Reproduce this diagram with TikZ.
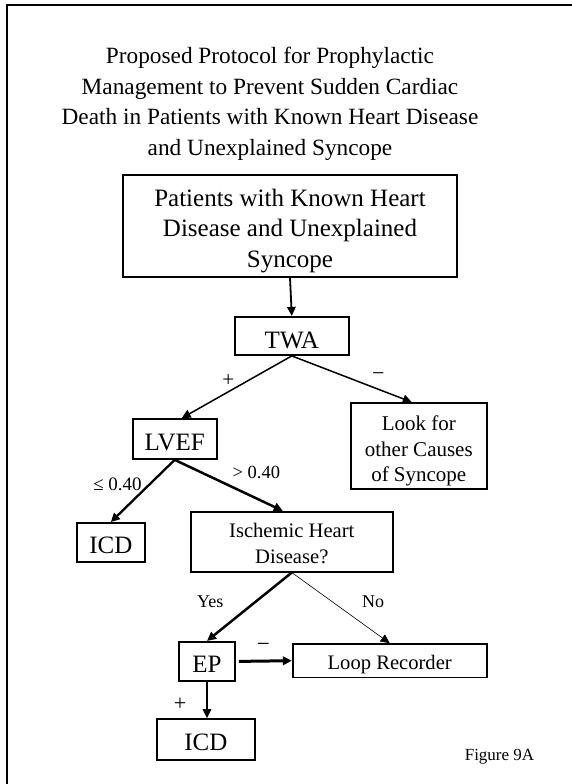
\documentclass[tikz,border=0pt]{standalone}
\usepackage{fontspec}
\setmainfont{Liberation Serif}
\usetikzlibrary{arrows.meta,calc}
\begin{document}
\begin{tikzpicture}[x=1pt,y=-1pt,
  box/.style={draw, line width=1.7pt, inner sep=0pt, align=center},
  sbox/.style={box, text depth=0pt, text height=#1},
  arr/.style={-{Triangle[length=9pt,width=8.5pt]}, line width=#1},
  arr/.default=1.6pt,
  lab/.style={anchor=base, inner sep=0pt, font=\fontsize{#1}{#1}\selectfont}]
\useasboundingbox (0,0) rectangle (572,784);
\draw[line width=2pt] (6.5,784) -- (6.5,5) -- (572,5);

\node[anchor=north, inner sep=0pt, align=center, font=\fontsize{23.3}{30.6}\selectfont] (title) at (270,43.3)
  {\rule{0pt}{20pt}Proposed Protocol for Prophylactic\\Management to Prevent Sudden Cardiac\\Death in Patients with Known Heart Disease\\and Unexplained Syncope};

\node[box, minimum width=334.3pt, minimum height=102pt, font=\fontsize{25}{30.6}\selectfont] (pat) at (290,226)
  {\rule{0pt}{26.6pt}Patients with Known Heart\\Disease and Unexplained\\Syncope};
\node[sbox=24.6pt, minimum width=114pt, minimum height=38.3pt, font=\fontsize{25}{30}\selectfont] (twa) at (291.8,335.9) {TWA};
\node[sbox=22pt, minimum width=84pt, minimum height=40pt, font=\fontsize{25}{30}\selectfont] (lvef) at (174.7,439) {LVEF};
\node[box, minimum width=135.7pt, minimum height=86pt, font=\fontsize{21}{25.5}\selectfont] (look) at (418.8,446)
  {\rule{0pt}{25pt}Look for\\other Causes\\of Syncope};
\node[sbox=22pt, minimum width=68.3pt, minimum height=38.7pt, font=\fontsize{25}{30}\selectfont] (icda) at (110.8,542.3) {ICD};
\node[box, minimum width=201.7pt, minimum height=60pt, font=\fontsize{20.6}{26}\selectfont] (isch) at (291.8,541.7)
  {\rule{0pt}{18.6pt}Ischemic Heart\\Disease?};
\node[sbox=22.6pt, minimum width=56pt, minimum height=39.3pt, font=\fontsize{25}{30}\selectfont] (ep) at (207,661.4) {EP};
\node[sbox=17.2pt, minimum width=194pt, minimum height=33.3pt, font=\fontsize{20.6}{25}\selectfont] (loop) at (389.7,660.7) {Loop Recorder};
\node[sbox=22.4pt, minimum width=98.3pt, minimum height=41pt, font=\fontsize{25}{30}\selectfont] (icdb) at (205.8,739.5) {ICD};

\draw[arr=1.8pt] (pat.south) -- (twa.north);
\draw[arr=1.5pt] (twa.south) -- ($(lvef.north)+(7,0)$);
\draw[arr=1.5pt] (twa.south) -- ($(look.north)+(-7,0)$);
\draw[arr=2.3pt] (lvef.south) -- (icda.north);
\draw[arr=2.5pt] (lvef.south) -- ($(isch.north)+(-9,0)$);
\draw[arr=2.5pt] (isch.south) -- (ep.north);
\draw[arr=0.6pt] (isch.south) -- (loop.north);
\draw[arr=3pt] ($(ep.east)+(3,0)$) -- (loop.west);
\draw[arr=1.8pt] (ep.south) -- (ep.south |- icdb.north);

\node[lab=21] (plusa) at (228.3,386) {+};
\node[lab=22] (minusa) at (378.3,380.5) {−};
\node[lab=19] (le) at (117.5,490) {≤ 0.40};
\node[lab=18.5] (gt) at (256.3,478.3) {> 0.40};
\node[lab=18] (yes) at (210.3,607.7) {Yes};
\node[lab=18] (no) at (373,607.7) {No};
\node[lab=23] (minusb) at (263.3,651.8) {−};
\node[lab=22] (plusb) at (180,710) {+};
\node[lab=17] (fig) at (499.5,760) {Figure 9A};
\end{tikzpicture}
\end{document}
